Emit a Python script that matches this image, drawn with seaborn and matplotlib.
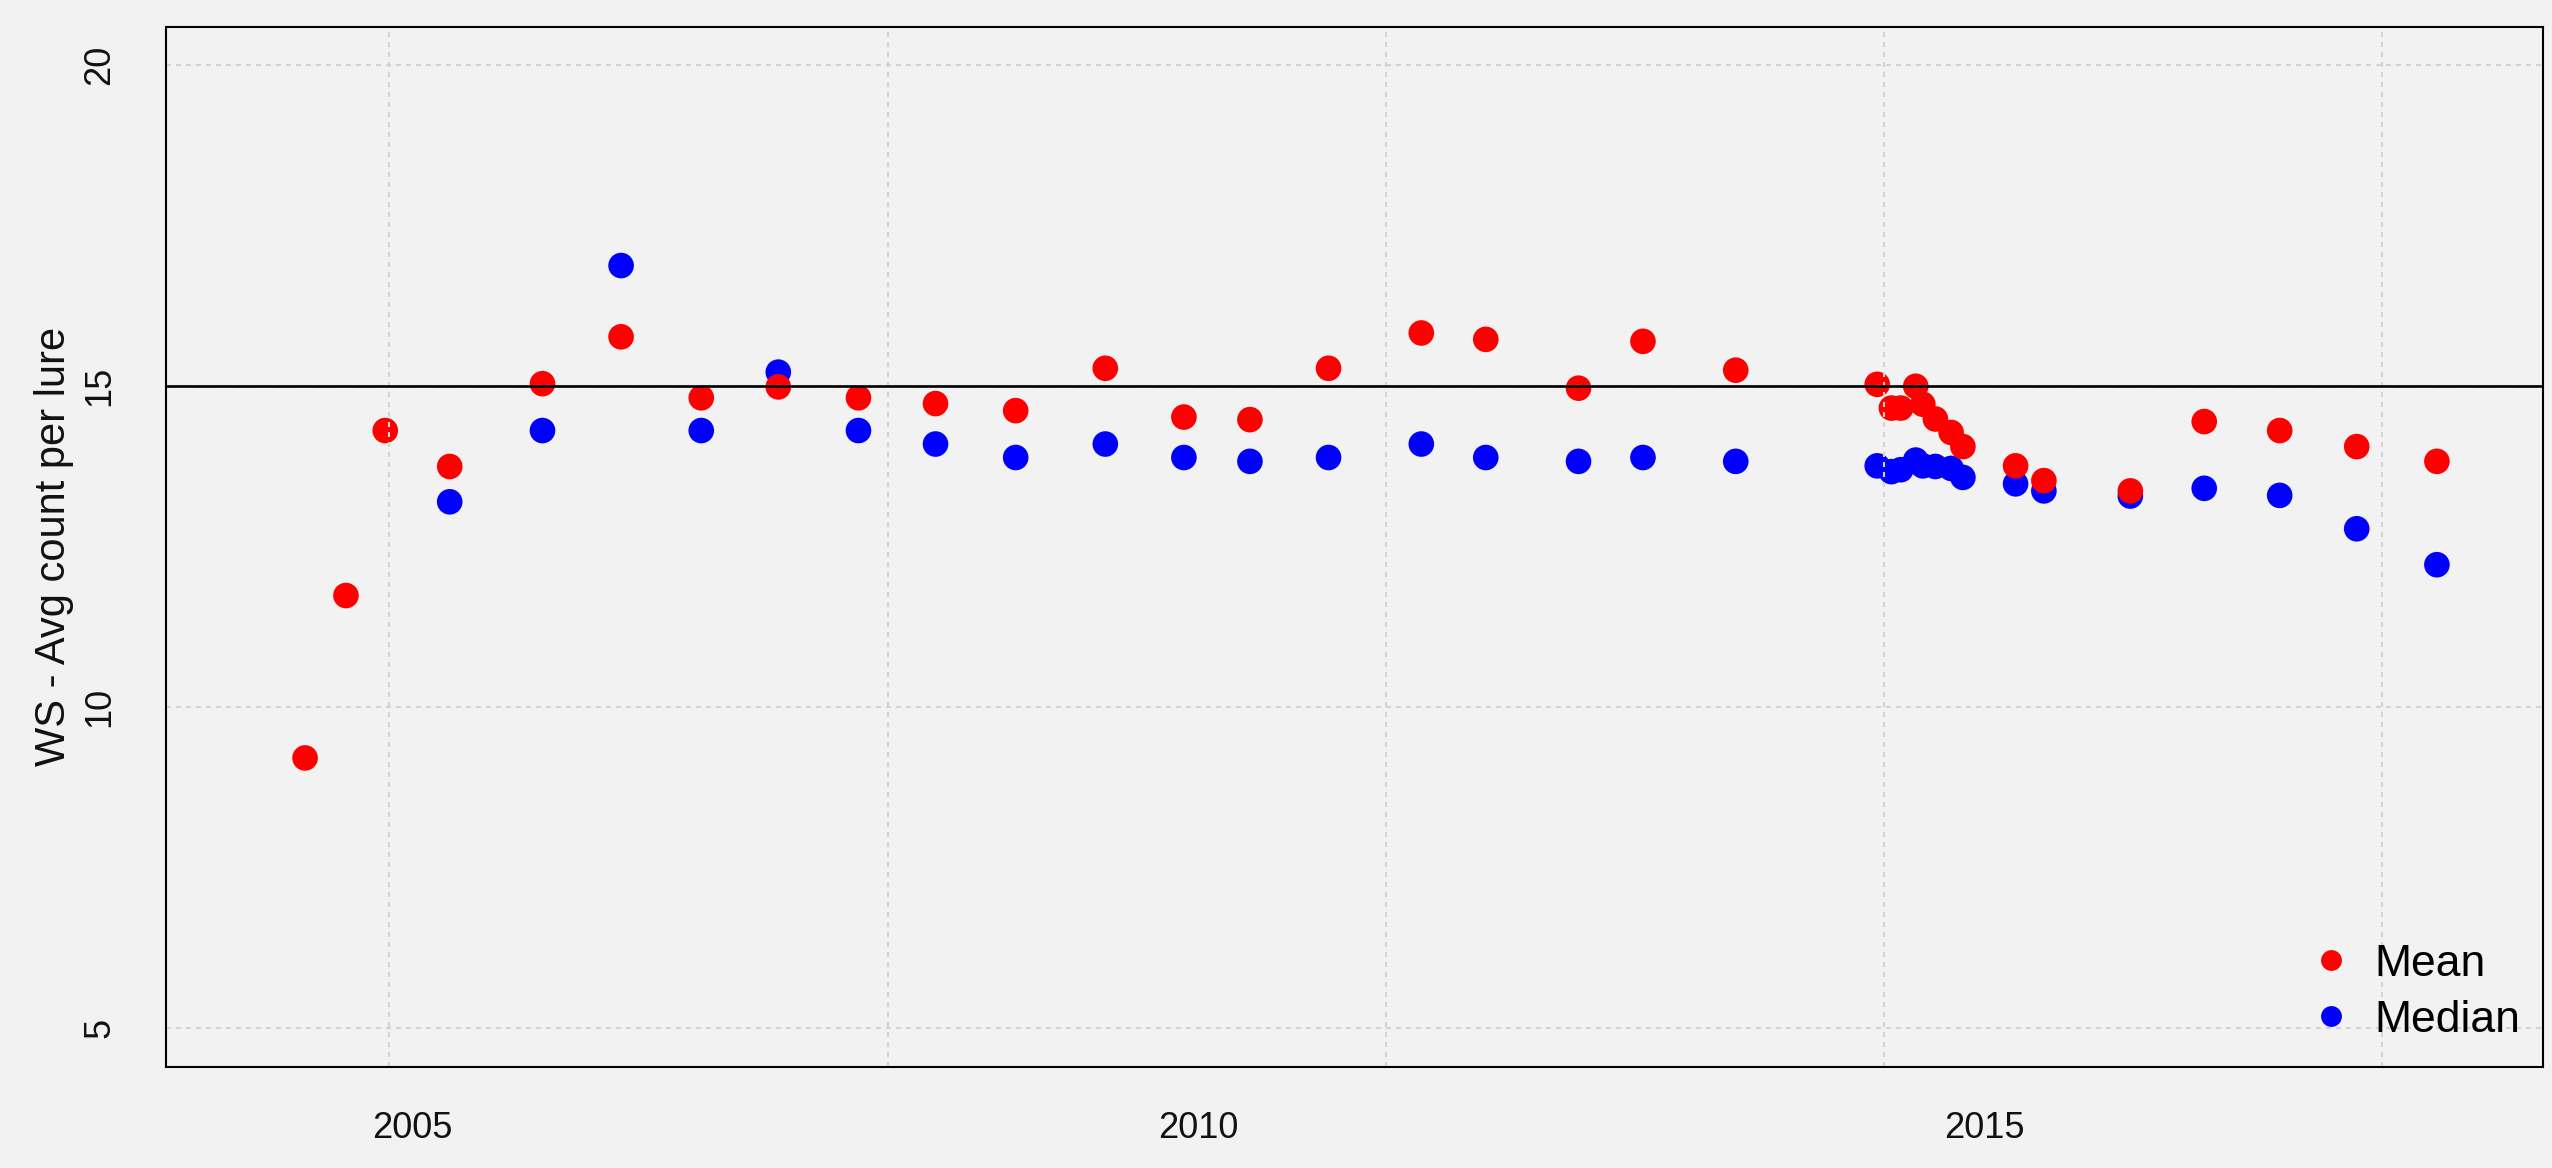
import numpy as np
import pandas as pd
import matplotlib
matplotlib.use("Agg")
import matplotlib.pyplot as plt
import seaborn as sns
from matplotlib.lines import Line2D
from datetime import datetime, timezone

# ---------------- data ----------------
survey_year = [2004.32, 2004.58, 2004.83, 2005.24, 2005.83, 2006.33, 2006.84,
               2007.33, 2007.84, 2008.33, 2008.84, 2009.41, 2009.91, 2010.33,
               2010.83, 2011.42, 2011.83, 2012.42, 2012.83, 2013.42,
               2014.32, 2014.41, 2014.47, 2014.565, 2014.61, 2014.69, 2014.79,
               2014.865, 2015.20, 2015.38, 2015.93, 2016.40, 2016.88, 2017.37,
               2017.88]
mean_count = [9.21, 11.74, 14.31, 13.75, 15.04, 15.77, 14.82, 14.99, 14.82,
              14.73, 14.62, 15.28, 14.52, 14.48, 15.28, 15.83, 15.73, 14.97,
              15.70, 15.25, 15.03, 14.66, 14.66, 15.00, 14.72, 14.49, 14.28,
              14.06, 13.76, 13.53, 13.37, 14.45, 14.31, 14.06, 13.83]
median_count = [np.nan, np.nan, np.nan, 13.20, 14.31, 16.88, 14.31, 15.22,
                14.31, 14.10, 13.89, 14.10, 13.89, 13.83, 13.89, 14.10, 13.89,
                13.83, 13.89, 13.83, 13.76, 13.67, 13.70, 13.85, 13.76, 13.75,
                13.72, 13.58, 13.48, 13.37, 13.29, 13.41, 13.30, 12.78, 12.22]
stat_names = ["Mean", "Median"]
stat_colors = {"Mean": "#ff0000", "Median": "#0000ff"}
x_tick_years = [2005, 2010, 2015]
y_ticks = [5, 10, 15, 20]
reference_level = 15
y_label = "WS - Avg count per lure"
# vertical grid follows pretty POSIX-second values (1.1e9 ... 1.5e9 s)
grid_epoch_seconds = [1.1e9, 1.2e9, 1.3e9, 1.4e9, 1.5e9]


def epoch_to_decimal_year(sec):
    d = datetime.fromtimestamp(sec, tz=timezone.utc)
    start = datetime(d.year, 1, 1, tzinfo=timezone.utc)
    end = datetime(d.year + 1, 1, 1, tzinfo=timezone.utc)
    return d.year + (d - start).total_seconds() / (end - start).total_seconds()


# Median drawn first so Mean sits on top (as in the reference)
df = pd.concat([
    pd.DataFrame({"year": survey_year, "value": median_count, "stat": "Median"}),
    pd.DataFrame({"year": survey_year, "value": mean_count, "stat": "Mean"}),
], ignore_index=True).dropna()

# ---------------- figure ----------------
BG = "#f2f2f2"
sns.set_theme(style="white")
plt.rcParams["font.family"] = ["Liberation Sans", "DejaVu Sans"]

fig = plt.figure(figsize=(25.52, 11.68), dpi=100, facecolor=BG)
ax = fig.add_axes([0.0649, 0.0867, 0.9314, 0.8904])
ax.set_facecolor(BG)

sns.scatterplot(data=df, x="year", y="value", hue="stat", hue_order=stat_names,
                palette=stat_colors, s=340, linewidth=0, legend=False,
                ax=ax, zorder=2)

ax.set_xlim(2003.433, 2018.552)
ax.set_ylim(4.4, 20.6)

grid_kw = dict(color="#d3d3d3", linewidth=1.5, linestyle=(0, (2.4, 2.4)), zorder=2.5)
for yv in y_ticks:
    ax.axhline(yv, **grid_kw)
for sec in grid_epoch_seconds:
    ax.axvline(epoch_to_decimal_year(sec), **grid_kw)

ax.axhline(reference_level, color="black", linewidth=1.9, zorder=3)

ax.set_xticks(x_tick_years)
ax.set_xticklabels([str(v) for v in x_tick_years])
ax.set_yticks(y_ticks)
ax.set_yticklabels([str(v) for v in y_ticks])
ax.tick_params(axis="both", which="major", direction="out", length=15,
               width=1.4, color="black", labelcolor="#111111", labelsize=26)
ax.tick_params(axis="x", pad=17)
ax.tick_params(axis="y", pad=20)
for lab in ax.get_yticklabels():
    lab.set_rotation(90)
    lab.set_va("center")
    lab.set_ha("right")

ax.set_xlabel("")
ax.set_ylabel(y_label, fontsize=30, color="#111111")
ax.yaxis.label.set_va("center")
ax.yaxis.set_label_coords(-0.047, 0.5)

for sp in ax.spines.values():
    sp.set_color("black")
    sp.set_linewidth(1.5)
    sp.set_visible(True)

handles = [Line2D([0], [0], marker="o", linestyle="", markersize=15,
                  markerfacecolor=stat_colors[n], markeredgewidth=0)
           for n in stat_names]
leg = ax.legend(handles, stat_names, loc="lower right",
                bbox_to_anchor=(0.9905, 0.025), frameon=False, fontsize=32,
                handlelength=1.0, handletextpad=0.48, labelspacing=0.34,
                borderpad=0, borderaxespad=0)
for t in leg.get_texts():
    t.set_color("black")

fig.savefig("out.png", dpi=100, facecolor=BG)
